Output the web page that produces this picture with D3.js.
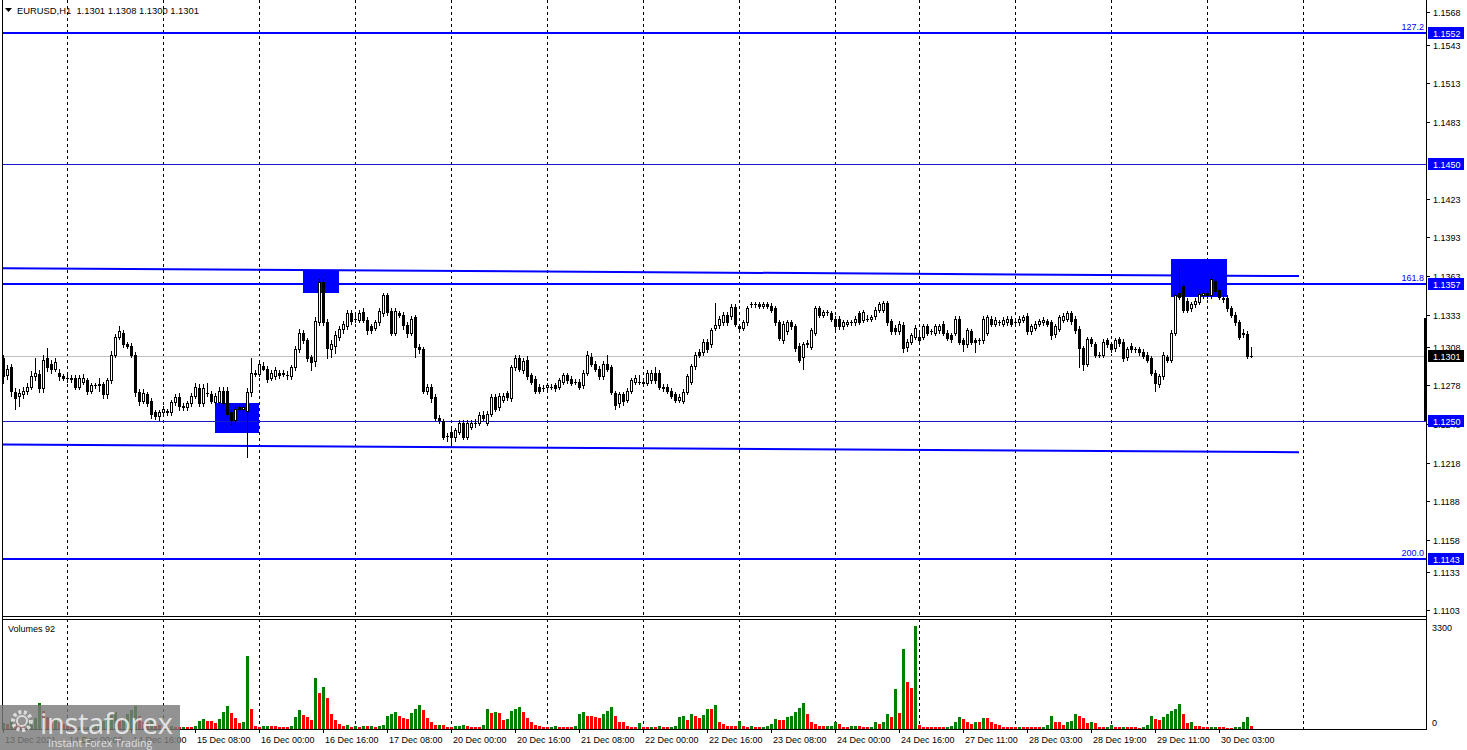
<!DOCTYPE html>
<html><head><meta charset="utf-8">
<script src="https://cdn.jsdelivr.net/npm/d3@7"></script>
<style>body{margin:0;background:#fff;overflow:hidden}svg{display:block;font-family:"Liberation Sans",Arial,sans-serif}</style>
</head><body><svg id="c" width="1467" height="750"></svg>
<script>
const titleText = "EURUSD,H1  1.1301 1.1308 1.1300 1.1301";
const volumeTitle = "Volumes 92";
// [open, high, low, close] per H1 bar, 13 Dec 2021 08:00 .. 30 Dec 2021 11:00
const ohlc = [
[1.1299,1.1302,1.1280,1.1285],[1.1286,1.1294,1.1283,1.1291],[1.1292,1.1295,1.1270,1.1274],[1.1273,1.1276,1.1260,1.1268],[1.1270,1.1275,1.1262,1.1272],[1.1271,1.1277,1.1268,1.1274],[1.1274,1.1280,1.1271,1.1277],[1.1277,1.1289,1.1275,1.1285],[1.1285,1.1299,1.1282,1.1288],[1.1287,1.1290,1.1273,1.1276],
[1.1276,1.1302,1.1273,1.1298],[1.1299,1.1307,1.1289,1.1292],[1.1295,1.1298,1.1288,1.1291],[1.1291,1.1299,1.1289,1.1296],[1.1288,1.1291,1.1282,1.1285],[1.1285,1.1287,1.1282,1.1284],[1.1284,1.1286,1.1281,1.1284],[1.1284,1.1286,1.1281,1.1283],[1.1284,1.1286,1.1275,1.1277],[1.1277,1.1286,1.1275,1.1284],
[1.1281,1.1287,1.1279,1.1284],[1.1282,1.1284,1.1271,1.1274],[1.1274,1.1280,1.1272,1.1278],[1.1278,1.1280,1.1276,1.1278],[1.1278,1.1284,1.1274,1.1279],[1.1279,1.1281,1.1268,1.1271],[1.1271,1.1284,1.1268,1.1282],[1.1282,1.1305,1.1280,1.1302],[1.1302,1.1318,1.1300,1.1316],[1.1316,1.1324,1.1314,1.1320],
[1.1319,1.1321,1.1308,1.1310],[1.1310,1.1312,1.1307,1.1309],[1.1309,1.1311,1.1300,1.1302],[1.1302,1.1304,1.1270,1.1273],[1.1273,1.1275,1.1263,1.1266],[1.1266,1.1275,1.1264,1.1272],[1.1271,1.1273,1.1262,1.1264],[1.1266,1.1268,1.1253,1.1256],[1.1257,1.1259,1.1252,1.1254],[1.1254,1.1259,1.1251,1.1257],
[1.1257,1.1262,1.1255,1.1260],[1.1258,1.1260,1.1255,1.1257],[1.1257,1.1267,1.1255,1.1265],[1.1265,1.1271,1.1263,1.1269],[1.1269,1.1272,1.1259,1.1262],[1.1262,1.1264,1.1259,1.1261],[1.1261,1.1266,1.1259,1.1264],[1.1264,1.1272,1.1262,1.1270],[1.1270,1.1280,1.1268,1.1277],[1.1276,1.1279,1.1262,1.1264],
[1.1264,1.1279,1.1262,1.1276],[1.1272,1.1280,1.1270,1.1272],[1.1271,1.1274,1.1264,1.1266],[1.1265,1.1272,1.1263,1.1270],[1.1265,1.1277,1.1263,1.1274],[1.1274,1.1277,1.1262,1.1264],[1.1274,1.1277,1.1254,1.1256],[1.1257,1.1259,1.1248,1.1251],[1.1251,1.1263,1.1249,1.1260],[1.1261,1.1263,1.1258,1.1260],
[1.1260,1.1263,1.1258,1.1261],[1.1258,1.1276,1.1222,1.1273],[1.1273,1.1299,1.1270,1.1288],[1.1287,1.1290,1.1285,1.1288],[1.1287,1.1297,1.1285,1.1295],[1.1293,1.1296,1.1290,1.1291],[1.1291,1.1293,1.1281,1.1283],[1.1284,1.1290,1.1282,1.1288],[1.1285,1.1292,1.1283,1.1290],[1.1288,1.1290,1.1284,1.1286],
[1.1288,1.1290,1.1285,1.1287],[1.1286,1.1289,1.1283,1.1286],[1.1285,1.1294,1.1283,1.1292],[1.1292,1.1309,1.1290,1.1306],[1.1306,1.1322,1.1304,1.1319],[1.1319,1.1321,1.1311,1.1313],[1.1313,1.1315,1.1297,1.1299],[1.1300,1.1302,1.1290,1.1296],[1.1297,1.1331,1.1293,1.1328],[1.1327,1.1361,1.1325,1.1358],
[1.1358,1.1361,1.1325,1.1327],[1.1327,1.1330,1.1299,1.1307],[1.1306,1.1313,1.1300,1.1310],[1.1309,1.1320,1.1303,1.1317],[1.1316,1.1324,1.1313,1.1322],[1.1322,1.1328,1.1319,1.1326],[1.1324,1.1337,1.1322,1.1334],[1.1334,1.1337,1.1326,1.1328],[1.1330,1.1333,1.1327,1.1330],[1.1329,1.1337,1.1327,1.1334],
[1.1335,1.1338,1.1327,1.1329],[1.1329,1.1331,1.1318,1.1321],[1.1324,1.1326,1.1319,1.1321],[1.1323,1.1329,1.1321,1.1327],[1.1327,1.1338,1.1325,1.1336],[1.1334,1.1350,1.1332,1.1348],[1.1348,1.1350,1.1333,1.1335],[1.1336,1.1338,1.1317,1.1319],[1.1319,1.1338,1.1317,1.1336],[1.1334,1.1336,1.1331,1.1333],
[1.1333,1.1335,1.1322,1.1325],[1.1325,1.1327,1.1316,1.1319],[1.1319,1.1332,1.1317,1.1330],[1.1331,1.1333,1.1300,1.1308],[1.1308,1.1310,1.1303,1.1306],[1.1306,1.1308,1.1272,1.1274],[1.1274,1.1279,1.1271,1.1277],[1.1277,1.1279,1.1265,1.1268],[1.1269,1.1271,1.1251,1.1253],[1.1253,1.1255,1.1249,1.1251],
[1.1250,1.1252,1.1236,1.1238],[1.1239,1.1241,1.1235,1.1239],[1.1242,1.1244,1.1233,1.1238],[1.1238,1.1245,1.1235,1.1243],[1.1242,1.1251,1.1240,1.1249],[1.1249,1.1251,1.1236,1.1238],[1.1238,1.1251,1.1236,1.1249],[1.1246,1.1251,1.1244,1.1249],[1.1249,1.1252,1.1246,1.1249],[1.1249,1.1257,1.1247,1.1255],
[1.1255,1.1258,1.1251,1.1253],[1.1249,1.1258,1.1247,1.1256],[1.1256,1.1271,1.1254,1.1269],[1.1269,1.1271,1.1258,1.1260],[1.1261,1.1272,1.1259,1.1270],[1.1267,1.1272,1.1265,1.1270],[1.1272,1.1274,1.1267,1.1269],[1.1268,1.1294,1.1266,1.1292],[1.1292,1.1302,1.1290,1.1299],[1.1299,1.1302,1.1289,1.1291],
[1.1290,1.1299,1.1288,1.1297],[1.1298,1.1301,1.1283,1.1285],[1.1286,1.1288,1.1279,1.1281],[1.1283,1.1285,1.1272,1.1274],[1.1277,1.1279,1.1272,1.1274],[1.1276,1.1278,1.1274,1.1276],[1.1277,1.1280,1.1275,1.1278],[1.1277,1.1279,1.1275,1.1277],[1.1278,1.1280,1.1274,1.1276],[1.1277,1.1284,1.1275,1.1282],
[1.1281,1.1288,1.1279,1.1286],[1.1286,1.1288,1.1280,1.1282],[1.1283,1.1285,1.1278,1.1280],[1.1281,1.1283,1.1279,1.1281],[1.1281,1.1283,1.1275,1.1277],[1.1278,1.1290,1.1276,1.1288],[1.1288,1.1305,1.1286,1.1302],[1.1300,1.1303,1.1293,1.1295],[1.1295,1.1297,1.1289,1.1291],[1.1291,1.1293,1.1283,1.1285],
[1.1285,1.1297,1.1283,1.1295],[1.1295,1.1302,1.1289,1.1291],[1.1292,1.1294,1.1271,1.1273],[1.1272,1.1274,1.1260,1.1263],[1.1264,1.1273,1.1261,1.1271],[1.1271,1.1273,1.1263,1.1266],[1.1267,1.1276,1.1265,1.1274],[1.1274,1.1284,1.1272,1.1282],[1.1281,1.1286,1.1279,1.1284],[1.1281,1.1286,1.1279,1.1281],
[1.1281,1.1283,1.1278,1.1280],[1.1280,1.1290,1.1278,1.1288],[1.1282,1.1290,1.1280,1.1288],[1.1288,1.1292,1.1280,1.1282],[1.1288,1.1290,1.1275,1.1277],[1.1277,1.1279,1.1274,1.1276],[1.1277,1.1279,1.1272,1.1274],[1.1274,1.1276,1.1268,1.1270],[1.1271,1.1273,1.1265,1.1267],[1.1267,1.1271,1.1265,1.1269],
[1.1266,1.1275,1.1264,1.1273],[1.1273,1.1287,1.1271,1.1285],[1.1281,1.1295,1.1279,1.1293],[1.1293,1.1304,1.1291,1.1302],[1.1304,1.1306,1.1300,1.1302],[1.1304,1.1314,1.1302,1.1312],[1.1312,1.1314,1.1304,1.1306],[1.1310,1.1323,1.1308,1.1321],[1.1323,1.1342,1.1321,1.1325],[1.1325,1.1332,1.1323,1.1330],
[1.1327,1.1335,1.1325,1.1333],[1.1333,1.1335,1.1325,1.1327],[1.1332,1.1341,1.1330,1.1339],[1.1339,1.1341,1.1324,1.1326],[1.1324,1.1326,1.1321,1.1323],[1.1323,1.1329,1.1321,1.1327],[1.1327,1.1340,1.1325,1.1338],[1.1341,1.1343,1.1339,1.1341],[1.1341,1.1343,1.1339,1.1341],[1.1341,1.1343,1.1338,1.1340],
[1.1340,1.1343,1.1338,1.1341],[1.1341,1.1343,1.1338,1.1340],[1.1340,1.1342,1.1335,1.1337],[1.1338,1.1340,1.1325,1.1327],[1.1327,1.1329,1.1313,1.1315],[1.1313,1.1328,1.1311,1.1326],[1.1320,1.1329,1.1318,1.1327],[1.1327,1.1329,1.1322,1.1324],[1.1324,1.1326,1.1305,1.1307],[1.1309,1.1311,1.1296,1.1298],
[1.1300,1.1312,1.1291,1.1310],[1.1310,1.1313,1.1308,1.1311],[1.1308,1.1323,1.1306,1.1321],[1.1319,1.1340,1.1317,1.1338],[1.1338,1.1340,1.1331,1.1333],[1.1333,1.1337,1.1331,1.1335],[1.1335,1.1337,1.1333,1.1335],[1.1334,1.1336,1.1328,1.1330],[1.1330,1.1332,1.1322,1.1324],[1.1330,1.1332,1.1322,1.1324],
[1.1324,1.1329,1.1322,1.1327],[1.1326,1.1329,1.1324,1.1327],[1.1327,1.1329,1.1325,1.1327],[1.1327,1.1332,1.1325,1.1330],[1.1334,1.1336,1.1326,1.1327],[1.1329,1.1337,1.1327,1.1335],[1.1330,1.1333,1.1328,1.1330],[1.1330,1.1333,1.1328,1.1331],[1.1332,1.1339,1.1330,1.1337],[1.1337,1.1343,1.1335,1.1341],
[1.1337,1.1344,1.1335,1.1342],[1.1342,1.1344,1.1325,1.1327],[1.1328,1.1330,1.1318,1.1320],[1.1323,1.1325,1.1318,1.1320],[1.1320,1.1328,1.1318,1.1326],[1.1325,1.1327,1.1304,1.1307],[1.1308,1.1314,1.1305,1.1312],[1.1312,1.1319,1.1310,1.1317],[1.1316,1.1325,1.1314,1.1323],[1.1316,1.1320,1.1311,1.1313],
[1.1316,1.1326,1.1314,1.1324],[1.1324,1.1326,1.1317,1.1319],[1.1320,1.1322,1.1318,1.1320],[1.1319,1.1326,1.1317,1.1324],[1.1321,1.1326,1.1319,1.1324],[1.1326,1.1328,1.1317,1.1319],[1.1319,1.1321,1.1313,1.1315],[1.1317,1.1319,1.1312,1.1314],[1.1319,1.1332,1.1317,1.1330],[1.1330,1.1332,1.1310,1.1312],
[1.1313,1.1315,1.1305,1.1310],[1.1310,1.1323,1.1308,1.1321],[1.1320,1.1322,1.1310,1.1312],[1.1313,1.1315,1.1304,1.1312],[1.1313,1.1315,1.1310,1.1313],[1.1313,1.1332,1.1311,1.1330],[1.1319,1.1333,1.1317,1.1331],[1.1330,1.1332,1.1324,1.1326],[1.1326,1.1331,1.1324,1.1329],[1.1327,1.1329,1.1325,1.1327],
[1.1326,1.1331,1.1324,1.1329],[1.1327,1.1332,1.1325,1.1330],[1.1330,1.1332,1.1324,1.1326],[1.1327,1.1329,1.1325,1.1327],[1.1327,1.1332,1.1325,1.1330],[1.1329,1.1333,1.1327,1.1331],[1.1332,1.1334,1.1318,1.1320],[1.1320,1.1326,1.1318,1.1324],[1.1323,1.1328,1.1321,1.1326],[1.1326,1.1330,1.1324,1.1328],
[1.1327,1.1331,1.1325,1.1329],[1.1328,1.1330,1.1324,1.1326],[1.1327,1.1329,1.1314,1.1317],[1.1318,1.1326,1.1316,1.1324],[1.1322,1.1333,1.1320,1.1331],[1.1329,1.1334,1.1327,1.1332],[1.1330,1.1336,1.1328,1.1334],[1.1334,1.1336,1.1326,1.1328],[1.1330,1.1332,1.1319,1.1321],[1.1322,1.1324,1.1292,1.1307],
[1.1307,1.1309,1.1290,1.1295],[1.1295,1.1316,1.1293,1.1314],[1.1314,1.1316,1.1309,1.1311],[1.1310,1.1312,1.1300,1.1302],[1.1302,1.1304,1.1300,1.1302],[1.1302,1.1314,1.1300,1.1312],[1.1313,1.1315,1.1308,1.1310],[1.1310,1.1312,1.1304,1.1306],[1.1307,1.1315,1.1305,1.1313],[1.1314,1.1316,1.1309,1.1311],
[1.1312,1.1314,1.1297,1.1299],[1.1300,1.1308,1.1298,1.1306],[1.1309,1.1311,1.1304,1.1306],[1.1306,1.1308,1.1304,1.1306],[1.1306,1.1308,1.1302,1.1304],[1.1304,1.1306,1.1299,1.1301],[1.1302,1.1304,1.1296,1.1298],[1.1299,1.1301,1.1286,1.1288],[1.1288,1.1290,1.1274,1.1280],[1.1279,1.1287,1.1277,1.1285],
[1.1285,1.1304,1.1283,1.1302],[1.1300,1.1302,1.1296,1.1298],[1.1298,1.1321,1.1296,1.1319],[1.1319,1.1350,1.1317,1.1348],[1.1350,1.1369,1.1345,1.1347],[1.1355,1.1357,1.1335,1.1337],[1.1344,1.1346,1.1335,1.1337],[1.1338,1.1343,1.1336,1.1341],[1.1341,1.1346,1.1339,1.1344],[1.1343,1.1351,1.1341,1.1349],
[1.1348,1.1352,1.1346,1.1350],[1.1350,1.1352,1.1346,1.1348],[1.1348,1.1363,1.1346,1.1361],[1.1359,1.1361,1.1349,1.1351],[1.1352,1.1354,1.1345,1.1347],[1.1346,1.1348,1.1343,1.1345],[1.1346,1.1348,1.1336,1.1338],[1.1338,1.1340,1.1331,1.1333],[1.1333,1.1335,1.1325,1.1327],[1.1327,1.1329,1.1314,1.1316],
[1.1319,1.1322,1.1316,1.1318],[1.1318,1.1320,1.1299,1.1301],[1.1301,1.1308,1.1300,1.1301]
];
const volumes = [
180,150,260,200,170,140,230,310,360,820, 590,400,300,340,210,150,90,70,60,80,
60,70,90,120,160,260,430,450,560,330, 340,480,600,730,430,230,180,300,200,120,
80,70,100,76,60,70,70,70,90,260, 320,260,250,195,320,550,750,520,360,190,
240,2340,650,110,80,110,112,100,95,80, 76,70,110,400,620,460,370,300,1630,1140,
1340,980,480,290,170,110,140,75,110,75, 110,100,110,75,110,130,430,470,560,430,
360,330,520,650,780,610,350,240,130,140, 130,75,70,110,112,140,110,80,76,70,
140,650,520,540,508,300,310,590,630,720, 540,350,220,130,108,76,70,76,108,76,
76,70,70,108,475,560,430,410,400,345, 475,590,690,410,215,210,85,76,70,195,
76,70,76,65,108,76,54,76,108,400, 430,300,465,430,356,450,650,640,756,240,
160,108,100,86,270,86,76,108,76,54, 76,108,160,325,300,300,400,430,540,670,
820,486,240,160,108,100,108,110,240,160, 76,54,108,110,100,76,54,76,240,150,
240,465,380,1275,500,2570,1510,1320,3300,140, 76,76,76,54,54,54,76,108,215,380,
325,240,170,240,235,345,340,215,150,140, 76,76,54,54,76,76,76,54,54,54,
76,140,410,240,215,140,240,250,465,430, 345,195,215,195,76,70,76,140,54,50,
76,70,54,50,45,76,140,430,325,300, 380,465,590,650,790,465,185,240,108,100,
76,54,76,80,54,50,48,45,76,80, 240,400,92
];
// time-axis labels, one every 16 bars starting at bar 0
const timeLabels = ["13 Dec 2021","14 Dec 00:00","14 Dec 16:00","15 Dec 08:00","16 Dec 00:00","16 Dec 16:00","17 Dec 08:00","20 Dec 00:00","20 Dec 16:00","21 Dec 08:00","22 Dec 00:00","22 Dec 16:00","23 Dec 08:00","24 Dec 00:00","24 Dec 16:00","27 Dec 11:00","28 Dec 03:00","28 Dec 19:00","29 Dec 11:00","30 Dec 03:00"];
// bar index of each day start (midnight)
const dayStarts = [16,40,64,88,112,136,160,184,208,229,253,277,301,325];
const priceTicks = [1.1568,1.1543,1.1513,1.1483,1.1423,1.1393,1.1363,1.1333,1.1308,1.1278,1.1248,1.1218,1.1188,1.1158,1.1133,1.1103];
const levelPrices = [1.1552,1.1450,1.1357,1.1250,1.1143];
const levelFibo = ["127.2","","161.8","","200.0"];
const levelHeavy = [true,false,true,false,true];
const bidPrice = 1.1301;
const channelUpper = [[0,1.1369],[324,1.1363]];
const channelLower = [[0,1.1232],[324,1.1226]];
const zoneBars = [[53,64],[75,84],[292,306]];
const zonePrices = [[1.1264,1.1241],[1.1368,1.1350],[1.1376,1.1347]];
const volumeTicks = [3300,0];

const svg = d3.select("#c");
const W=1467, H=750, L=3, R=1426, mainTop=0, mainBot=616, volTop=619, volBot=729;
const blue="#0000ff";
const x = d3.scaleLinear().domain([0,325]).range([3,1303]);
const y = d3.scaleLinear().domain([1.1143,1.1552]).range([559,33]);
const yv = d3.scaleLinear().domain([0,3300]).range([729,626]);
const px = i => Math.round(x(i));
const py = p => Math.round(y(p));

svg.append("rect").attr("width",W).attr("height",H).attr("fill","#fff");

// day separators (dashed)
const grid = svg.append("g");
dayStarts.forEach(b=>{
  [[mainTop,mainBot],[volTop,volBot]].forEach(([a,bb])=>{
    grid.append("line").attr("x1",px(b)+0.5).attr("x2",px(b)+0.5).attr("y1",a).attr("y2",bb)
      .attr("stroke","#000").attr("stroke-width",1).attr("stroke-dasharray","3,3");
  });
});

// zones
const objs = svg.append("g");
zoneBars.forEach((zb,k)=>{
  const x0=px(zb[0]), x1=px(zb[1]), y0=py(zonePrices[k][0]), y1=py(zonePrices[k][1]);
  objs.append("rect").attr("x",x0).attr("y",y0).attr("width",x1-x0).attr("height",y1-y0).attr("fill",blue);
});
// bid line
objs.append("line").attr("x1",L).attr("x2",R).attr("y1",py(bidPrice)+0.5).attr("y2",py(bidPrice)+0.5).attr("stroke","#c0c0c0");
// levels
levelPrices.forEach((p,k)=>{
  const yy=py(p);
  if(levelHeavy[k]) objs.append("rect").attr("x",L).attr("y",yy-1).attr("width",R-L).attr("height",2).attr("fill",blue);
  else objs.append("rect").attr("x",L).attr("y",yy).attr("width",R-L).attr("height",1).attr("fill","#1818c8");
  if(levelFibo[k]) objs.append("text").attr("x",R-2).attr("y",yy-3).attr("text-anchor","end").attr("font-size",9).attr("fill",blue).text(levelFibo[k]);
});
// channel
[channelUpper,channelLower].forEach(ch=>{
  objs.append("line").attr("x1",x(ch[0][0])).attr("x2",x(ch[1][0])).attr("y1",y(ch[0][1])).attr("y2",y(ch[1][1]))
    .attr("stroke",blue).attr("stroke-width",2);
});

// candles
const cg = svg.append("g");
ohlc.forEach((d,i)=>{
  const [o,h,l,c]=d; const cx=px(i);
  const yo=py(o), yc=py(c), yh=py(h), yl=py(l);
  cg.append("rect").attr("x",cx).attr("y",yh).attr("width",1).attr("height",yl-yh+1).attr("fill","#000");
  const top=Math.min(yo,yc), bot=Math.max(yo,yc);
  cg.append("rect").attr("x",cx-1).attr("y",top).attr("width",3).attr("height",bot-top+1).attr("fill","#000");
  if(c>o && bot-top>=2) cg.append("rect").attr("x",cx).attr("y",top+1).attr("width",1).attr("height",bot-top-1).attr("fill","#fff");
});

// volumes
const vg = svg.append("g");
volumes.forEach((v,i)=>{
  const up = i===0 || v>volumes[i-1];
  const cx=px(i), t=Math.round(yv(v));
  vg.append("rect").attr("x",cx-1).attr("y",t).attr("width",3).attr("height",Math.max(1,volBot-t)).attr("fill",up?"#008000":"#ff0000");
});

// frames
const fr = svg.append("g").attr("stroke","#000").attr("stroke-width",1).attr("shape-rendering","crispEdges");
fr.append("line").attr("x1",2.5).attr("x2",2.5).attr("y1",0).attr("y2",volBot);
fr.append("line").attr("x1",R+0.5).attr("x2",R+0.5).attr("y1",0).attr("y2",volBot);
fr.append("line").attr("x1",2).attr("x2",R+1).attr("y1",mainBot+0.5).attr("y2",mainBot+0.5);
fr.append("line").attr("x1",2).attr("x2",R+1).attr("y1",volTop+0.5).attr("y2",volTop+0.5);
fr.append("line").attr("x1",2).attr("x2",R+1).attr("y1",volBot+0.5).attr("y2",volBot+0.5);
svg.append("rect").attr("x",R-2).attr("y",318).attr("width",3).attr("height",103).attr("fill","#000");

// price axis
const ax = svg.append("g").attr("font-size",9).attr("fill","#000");
priceTicks.forEach(p=>{
  const yy=py(p);
  ax.append("rect").attr("x",R+1).attr("y",yy).attr("width",3).attr("height",1).attr("fill","#000");
  ax.append("text").attr("x",1433).attr("y",yy+3.5).text(p.toFixed(4));
});
levelPrices.forEach(p=>{
  const yy=py(p);
  ax.append("rect").attr("x",1428).attr("y",yy-6).attr("width",36).attr("height",12).attr("fill",blue);
  ax.append("text").attr("x",1433).attr("y",yy+3.5).attr("fill","#fff").text(p.toFixed(4));
});
ax.append("rect").attr("x",1428).attr("y",py(bidPrice)-6).attr("width",36).attr("height",12).attr("fill","#000");
ax.append("text").attr("x",1433).attr("y",py(bidPrice)+3.5).attr("fill","#fff").text(bidPrice.toFixed(4));
volumeTicks.forEach(v=>{
  const yy=v===0?722:627;
  ax.append("text").attr("x",1432).attr("y",yy+3.5).text(String(v));
});

// time axis
const tg = svg.append("g").attr("font-size",9).attr("fill","#000");
timeLabels.forEach((t,k)=>{
  const b=k*16, xx=px(b);
  tg.append("rect").attr("x",xx).attr("y",volBot).attr("width",1).attr("height",4).attr("fill","#000");
  tg.append("text").attr("x",xx+2).attr("y",743).text(t);
});

// titles
svg.append("path").attr("d","M5,8 L12,8 L8.5,12 Z").attr("fill","#000");
svg.append("text").attr("x",17).attr("y",14).attr("font-size",9.4).attr("fill","#000").attr("xml:space","preserve").text(titleText);
svg.append("text").attr("x",8).attr("y",632).attr("font-size",9).attr("fill","#000").text(volumeTitle);

// watermark
const wm = svg.append("g");
wm.append("rect").attr("x",0).attr("y",705).attr("width",180).attr("height",45).attr("fill","#7a7a7a").attr("opacity",0.82);
const gear = wm.append("g").attr("transform","translate(22,721)").attr("fill","none").attr("stroke","#e8e8e8").attr("opacity",0.85);
gear.append("circle").attr("r",9).attr("stroke-width",4).attr("stroke-dasharray","3,2.5");
gear.append("circle").attr("r",5).attr("stroke-width",2);
wm.append("text").attr("x",40).attr("y",734).attr("font-family","Open Sans, sans-serif").attr("font-size",29).attr("fill","#f2f2f2").attr("opacity",0.85).attr("textLength",133).text("instaforex");
wm.append("text").attr("x",48).attr("y",747).attr("font-family","Open Sans, sans-serif").attr("font-size",10.5).attr("fill","#f0f0f0").attr("opacity",0.85).text("Instant Forex Trading");
</script></body></html>
